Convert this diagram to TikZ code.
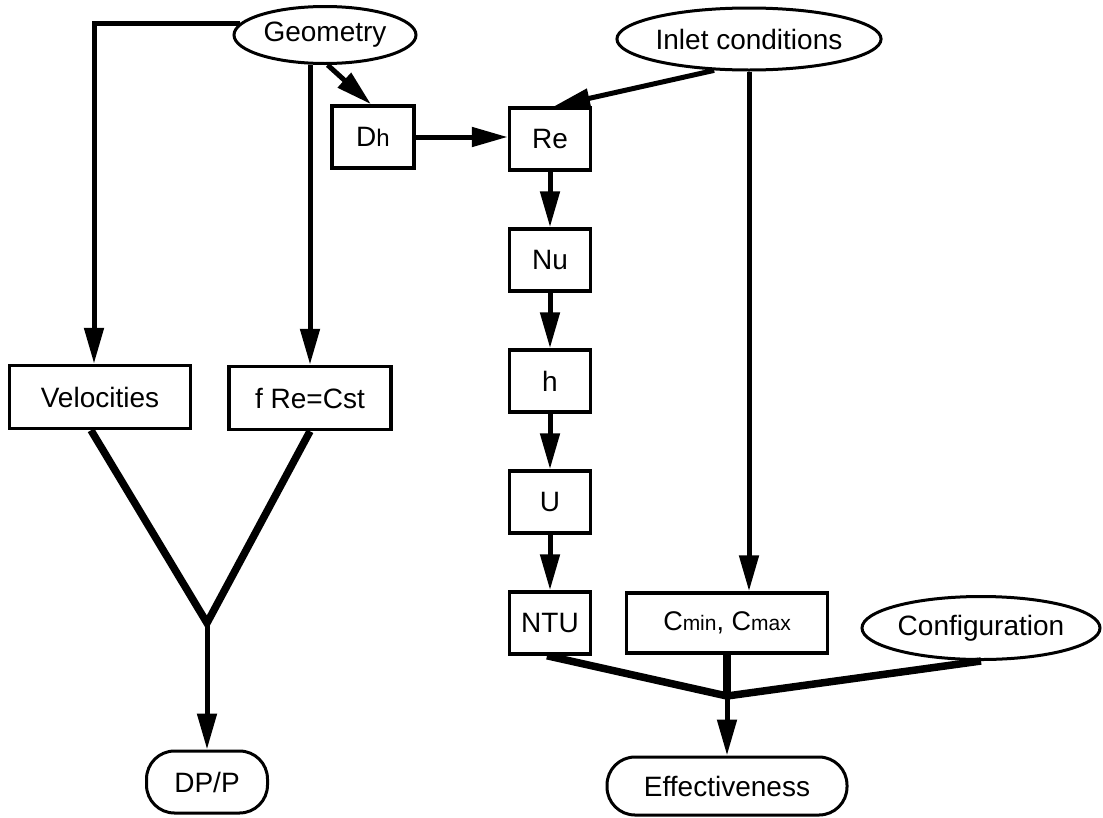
\documentclass[tikz,border=0pt]{standalone}
\usepackage{fontspec}
\setmainfont{Liberation Sans}
\usetikzlibrary{shapes, arrows.meta}
\tikzstyle{block} = [rectangle, draw, line width=3.5pt, minimum width=81pt,
    minimum height=62pt, inner sep=0pt]
\tikzstyle{cloud} = [draw, ellipse, line width=3pt, inner sep=0pt,
    minimum height=60pt]
\tikzstyle{terminal} = [rectangle, draw, line width=3pt, rounded corners=28pt,
    minimum height=62pt]
\tikzstyle{line} = [draw, line width=5pt, -{Triangle[length=36pt, width=19pt]}]
\tikzstyle{feed} = [draw, line width=7.5pt]
\newcommand{\smalltxt}[1]{{\fontsize{21}{24}\selectfont #1}}

\begin{document}
\begin{tikzpicture}[x=1pt, y=-1pt, node distance=121pt, font=\fontsize{28}{32}\selectfont]
        \useasboundingbox (0,0) rectangle (1103,817);
        % Place nodes
        \node [cloud, minimum width=182pt, minimum height=57pt] (geometry) at (325,35) {Geometry};
        \node [cloud, minimum width=262pt, minimum height=62pt] (inlet) at (749,39) {Inlet conditions};
        \node [block, minimum width=82pt] (dh) at (373,137) {D{\fontsize{24}{28}\selectfont h}};
        \node [block] (re) at (550,139) {Re};
        \node [block, below of=re] (nu) {Nu};
        \node [block, below of=nu] (h) {h};
        \node [block, below of=h] (u) {U};
        \node [block, below of=u] (ntu) {NTU};
        \node [block, minimum width=181pt, minimum height=63pt] (velocities) at (100,397) {Velocities};
        \node [block, minimum width=162pt, minimum height=63pt] (fre) at (310,398) {f Re=Cst};
        \node [block, minimum width=201pt, minimum height=60pt] (cmin) at (727,623)
            {\fontsize{27}{30}\selectfont C\smalltxt{min}, C\smalltxt{max}};
        \node [cloud, minimum width=238pt, minimum height=63pt] (config) at (981,628) {Configuration};
        \node [terminal, minimum width=121pt] (dpp) at (207,782) {DP/P};
        \node [terminal, minimum width=240pt, minimum height=58pt] (effect) at (727,786) {Effectiveness};
        \coordinate (vjoin) at (207,623);
        \coordinate (ejoin) at (727,696);
        % Draw edges
        \path [line] (geometry.172) -| ([xshift=-6pt]velocities.north);
        \path [line] (geometry.south -| fre.north) -- (fre.north);
        \path [line] (geometry.-85) -- ([xshift=-2pt]dh.north);
        \path [line] (dh.east) -- (dh.east -| re.west);
        \path [line] (inlet.222) -- ([xshift=4pt]re.north);
        \path [line] (inlet.south) -- (inlet.south |- cmin.north);
        \path [line] (re) -- (nu);
        \path [line] (nu) -- (h);
        \path [line] (h) -- (u);
        \path [line] (u) -- (ntu);
        \path [feed] ([xshift=-9pt]velocities.south) -- (vjoin) -- (fre.south);
        \path [line] (vjoin) -- (dpp);
        \path [feed] ([xshift=-3pt]ntu.south) -- (ejoin) -- (config.south);
        \path [feed] (cmin.south) -- (ejoin);
        \path [line] (ejoin) -- (effect);
    \end{tikzpicture}
\end{document}
